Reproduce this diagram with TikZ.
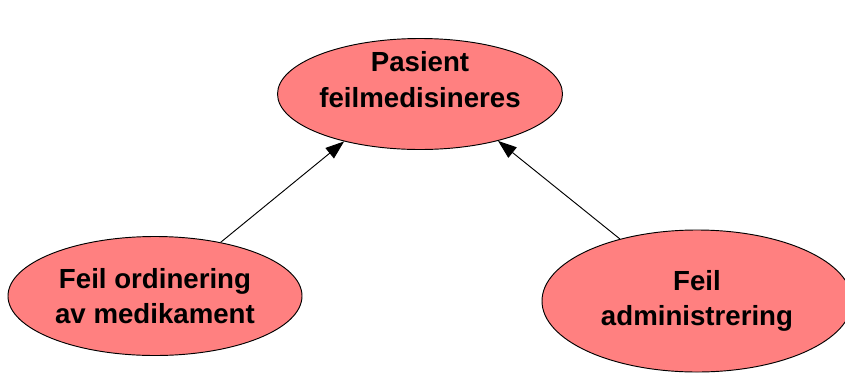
\documentclass[tikz,border=0pt]{standalone}
\usepackage{fontspec}
\setmainfont{Liberation Sans}
\usetikzlibrary{shapes.geometric,arrows.meta}
\definecolor{salmon}{RGB}{255,128,128}

\begin{document}
\begin{tikzpicture}[every node/.style={ellipse,draw,fill=salmon,line width=0.8pt,inner sep=0,align=center,font=\fontsize{23.6}{30}\selectfont\bfseries}]
        \useasboundingbox (0,0) rectangle (25.35,-11.19);
        \node[minimum width=8.55cm,minimum height=3.33cm,text height=1.5cm,text depth=0.72cm] (pasient) at (12.6,-2.82) {Pasient\\feilmedisineres};
        \node[minimum width=8.82cm,minimum height=3.57cm] (ordinering) at (4.65,-8.88) {Feil ordinering\\av medikament};
        \node[minimum width=9.3cm,minimum height=4.26cm] (administrering) at (20.91,-9.03) {Feil\\administrering};
        \draw[-{Triangle[length=0.56cm,width=0.4cm]},line width=0.8pt] (ordinering) -- (pasient.212);
        \draw[-{Triangle[length=0.56cm,width=0.4cm]},line width=0.8pt] (administrering) -- (pasient.329);
      \end{tikzpicture}
\end{document}
